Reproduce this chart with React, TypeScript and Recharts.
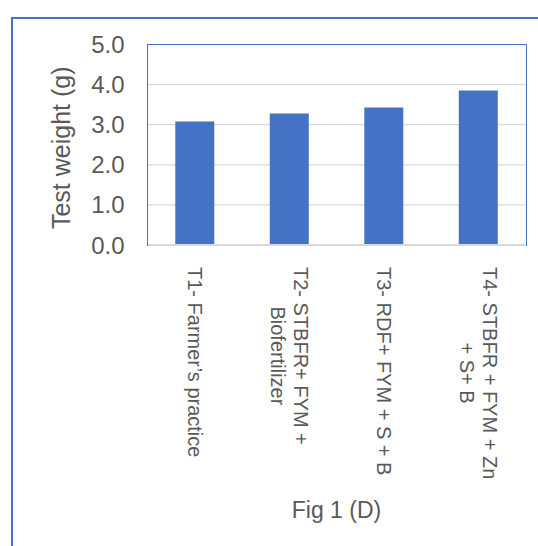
import React from "react";
import { Bar, BarChart, CartesianGrid, Label, XAxis, YAxis } from "recharts";

const treatments = [
  "T1- Farmer\u2019s practice",
  "T2- STBFR+ FYM +\nBiofertilizer",
  "T3- RDF+ FYM + S + B",
  "T4- STBFR + FYM + Zn\n+ S+ B",
];
const testWeight = [3.08, 3.28, 3.43, 3.85];
const yTicks = [0, 1, 2, 3, 4, 5];

const font = "'Liberation Sans', Arial, sans-serif";
const textColor = "#595959";
const blue = "#4472C4";

const data = treatments.map((name, i) => ({ name, value: testWeight[i] }));

let ctx: CanvasRenderingContext2D | null = null;
function textWidth(s: string, size: number) {
  if (!ctx) ctx = document.createElement("canvas").getContext("2d");
  if (!ctx) return s.length * size * 0.5;
  ctx.font = `${size}px ${font}`;
  return ctx.measureText(s).width;
}

function RotatedTick(props: any) {
  const { x, y, payload } = props;
  const lines = String(payload.value).split("\n");
  const size = 20;
  const lineGap = 23;
  const longest = Math.max(...lines.map((l) => textWidth(l, size)));
  return (
    <g transform={`translate(${x},${y + 22}) rotate(90)`}>
      {lines.map((line, i) => (
        <text
          key={i}
          x={longest / 2}
          y={(i - (lines.length - 1) / 2) * lineGap}
          textAnchor="middle"
          dominantBaseline="central"
          fontSize={size}
          fontFamily={font}
          fill={textColor}
        >
          {line}
        </text>
      ))}
    </g>
  );
}

export default function App() {
  return (
    <div
      style={{
        position: "fixed",
        left: 0,
        top: 0,
        width: 538,
        height: 546,
        overflow: "hidden",
        background: "#fff",
      }}
    >
      <div
        style={{
          position: "absolute",
          left: 11,
          top: 17,
          width: 600,
          height: 600,
          border: `2px solid ${blue}`,
        }}
      />
      <div style={{ position: "absolute", left: 0, top: 0 }}>
        <BarChart
          width={538}
          height={546}
          data={data}
          margin={{ top: 44.5, right: 12.5, bottom: 51, left: 97.5 }}
          barCategoryGap="29.4%"
        >
          <CartesianGrid vertical={false} stroke="#d9d9d9" strokeWidth={1.2} />
          <XAxis
            dataKey="name"
            interval={0}
            height={250}
            tickLine={false}
            tickSize={0}
            tickMargin={0}
            axisLine={{ stroke: "#d9d9d9", strokeWidth: 2 }}
            tick={<RotatedTick />}
          >
            <Label
              content={(p: any) => {
                const vb = p.viewBox || {};
                return (
                  <text
                    x={vb.x + vb.width / 2}
                    y={vb.y + 273}
                    textAnchor="middle"
                    fontSize={23}
                    fontFamily={font}
                    fill={textColor}
                  >
                    Fig 1 (D)
                  </text>
                );
              }}
            />
          </XAxis>
          <YAxis
            domain={[0, 5]}
            ticks={yTicks}
            width={50}
            tickLine={false}
            tickSize={0}
            tickMargin={23}
            tickFormatter={(v: number) => v.toFixed(1)}
            tick={{ fontSize: 24, fontFamily: font, fill: textColor }}
            axisLine={false}
          >
            <Label
              content={(p: any) => {
                const vb = p.viewBox || {};
                const cx = vb.x - 37;
                const cy = vb.y + vb.height / 2 + 3;
                return (
                  <text
                    x={cx}
                    y={cy}
                    transform={`rotate(-90 ${cx} ${cy})`}
                    textAnchor="middle"
                    dominantBaseline="central"
                    fontSize={25}
                    fontFamily={font}
                    fill={textColor}
                  >
                    Test weight (g)
                  </text>
                );
              }}
            />
          </YAxis>
          <Bar dataKey="value" fill={blue} isAnimationActive={false} />
        </BarChart>
      </div>
      {/* plot area border: blue on three sides, the gray axis line is the bottom */}
      <div
        style={{
          position: "absolute",
          left: 146.5,
          top: 43.5,
          width: 378,
          height: 201,
          borderTop: `1.5px solid ${blue}`,
          borderLeft: `1.5px solid ${blue}`,
          borderRight: `1.5px solid ${blue}`,
          pointerEvents: "none",
        }}
      />
    </div>
  );
}
